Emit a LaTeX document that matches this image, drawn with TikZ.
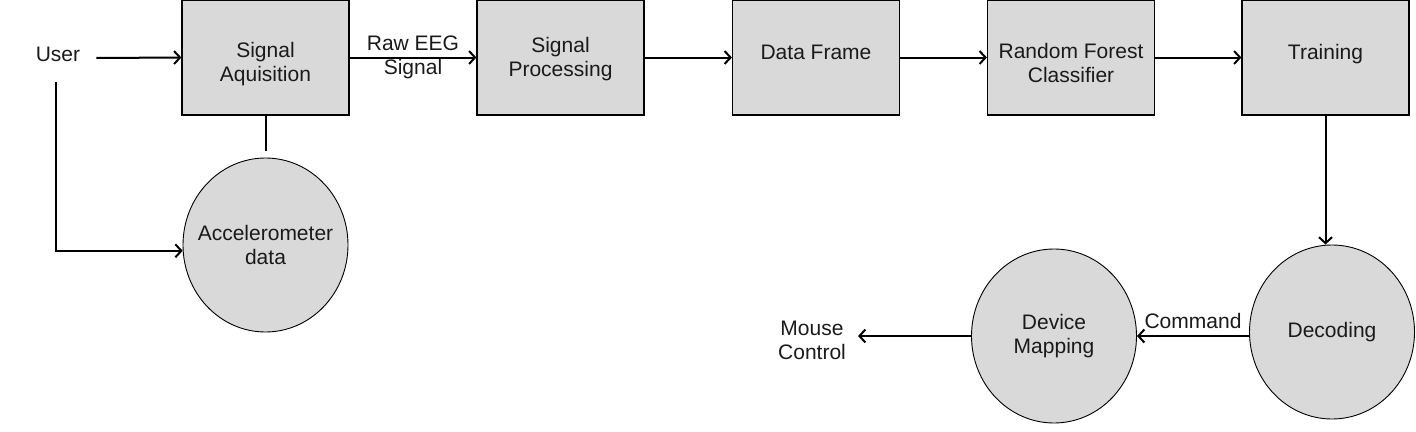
\documentclass[tikz,border=0pt]{standalone}
\usepackage{fontspec}
\setmainfont{Liberation Sans}
\usetikzlibrary{arrows.meta,shapes.geometric}
\definecolor{boxgray}{HTML}{D9D9D9}
\definecolor{txt}{HTML}{1A1A1A}
\begin{document}
\begin{tikzpicture}[x=1pt,y=-1pt,
  every node/.style={font=\fontsize{21}{24}\selectfont, text=txt},
  procbox/.style={draw=black, line width=1.2pt, fill=boxgray, minimum width=167pt, minimum height=115pt, inner sep=0pt, align=center},
  ovalnode/.style={ellipse, draw=black, line width=0.9pt, fill=boxgray, minimum width=165pt, minimum height=174pt, inner xsep=-30pt, inner ysep=0pt, align=center},
  plain/.style={inner sep=0pt, align=center},
  boxtext/.style={plain, yshift=#1},
  conn/.style={line width=2pt, black},
  arr/.style={conn, -{Straight Barb[length=6pt,width=13pt,line width=2pt]}}
]
\useasboundingbox (0,0) rectangle (1416,431);
% boxes
\node[procbox, label={[boxtext=-7pt]center:Signal\\Aquisition}] (sa) at (265.5,57.5) {};
\node[procbox, label={[boxtext=-2pt]center:Signal\\Processing}] (sp) at (560.5,57.5) {};
\node[procbox, label={[boxtext=5pt]center:Data Frame}] (df) at (816,57.5) {};
\node[procbox, label={[boxtext=-5pt]center:Random Forest\\Classifier}] (rf) at (1071,57.5) {};
\node[procbox, label={[boxtext=3pt]center:Training}] (tr) at (1325.5,57.5) {};
% ovals
\node[ovalnode] (acc) at (265.5,245) {Accelerometer\\data};
\node[ovalnode] (dec) at (1332,332) {Decoding};
\node[ovalnode] (dm) at (1054,336) {Device\\Mapping};
% free texts
\node[plain] (user) at (58,54) {User};
\node[plain] (mc) at (812,340) {Mouse\\Control};
% connectors
\draw[arr] ([xshift=16pt,yshift=-4pt]user.east) -- (sa.west);
\draw[arr] (sa.east) -- node[plain, midway] {Raw EEG\\Signal} (sp.west);
\draw[arr] (sp.east) -- (df.west);
\draw[arr] (df.east) -- (rf.west);
\draw[arr] (rf.east) -- (tr.west);
\draw[conn] (sa.south) -- ([yshift=7pt]acc.north);
\draw[arr] ([xshift=-2pt,yshift=-20pt]user.south) |- (acc.184);
\draw[arr] (tr.south) -- (tr.south |- dec.north);
\draw[arr] (dec.west |- dm.east) -- node[plain, midway, above=6pt] {Command} (dm.east);
\draw[arr, shorten >=12pt] (dm.west) -- (mc.east |- dm.west);
\end{tikzpicture}
\end{document}
